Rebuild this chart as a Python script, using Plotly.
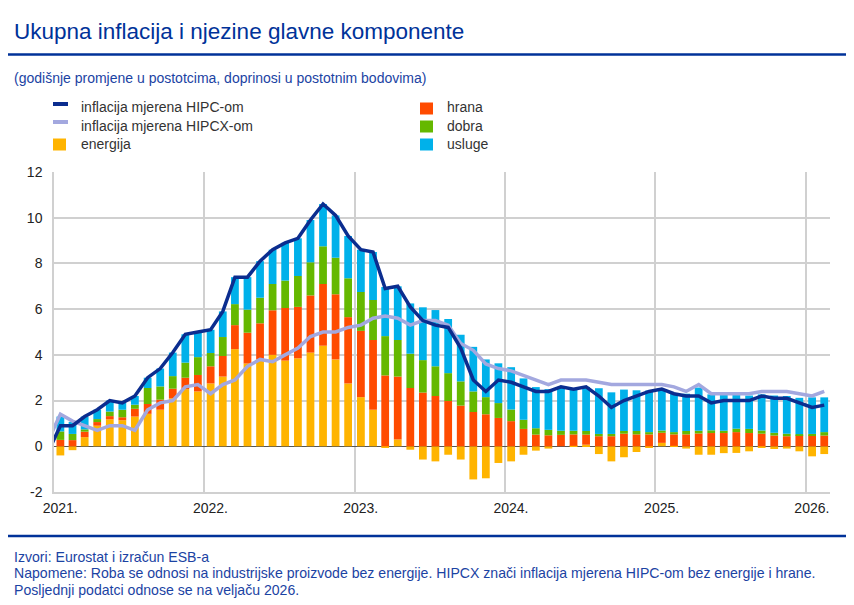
import pandas as pd
import plotly.graph_objects as go

# ---------------- data ----------------
months = pd.date_range("2021-01-01", periods=62, freq="MS")
line_months = pd.date_range("2020-12-01", periods=63, freq="MS")

energija = [-0.40, -0.17, 0.40, 0.90, 1.18, 1.14, 1.30, 1.42, 1.60, 2.10, 2.50, 2.40,
            2.75, 3.05, 4.25, 3.62, 3.80, 4.00, 3.75, 3.85, 4.10, 4.40, 3.80, 2.75,
            2.15, 1.60, -0.07, 0.30, -0.15, -0.58, -0.66, -0.37, -0.58, -1.45, -1.40, -0.73,
            -0.66, -0.37, -0.19, -0.10, 0.00, 0.02, 0.07, -0.34, -0.66, -0.48, -0.25, -0.04,
            0.15, 0.02, -0.10, -0.37, -0.37, -0.30, -0.29, -0.22, -0.07, -0.12, -0.10, -0.22,
            -0.44, -0.34]
hrana = [0.28, 0.27, 0.24, 0.16, 0.14, 0.13, 0.34, 0.43, 0.44, 0.42, 0.50, 0.72,
         0.75, 0.90, 1.05, 1.35, 1.58, 1.95, 2.30, 2.25, 2.50, 2.70, 2.85, 2.90,
         2.90, 3.05, 3.10, 2.75, 2.55, 2.35, 2.20, 1.98, 1.78, 1.50, 1.40, 1.24,
         1.10, 0.76, 0.51, 0.48, 0.50, 0.50, 0.44, 0.44, 0.44, 0.55, 0.52, 0.52,
         0.44, 0.50, 0.52, 0.56, 0.58, 0.58, 0.62, 0.58, 0.55, 0.47, 0.44, 0.48,
         0.48, 0.47]
dobra = [0.37, 0.27, 0.10, 0.13, 0.20, 0.33, 0.18, 0.70, 0.58, 0.55, 0.66, 0.78,
         0.58, 0.83, 0.92, 1.01, 1.12, 1.15, 1.20, 1.35, 1.45, 1.65, 1.60, 1.70,
         1.70, 1.75, 1.72, 1.60, 1.50, 1.42, 1.30, 1.22, 1.06, 0.90, 0.75, 0.65,
         0.51, 0.40, 0.28, 0.24, 0.18, 0.16, 0.16, 0.10, 0.10, 0.12, 0.15, 0.10,
         0.10, 0.10, 0.15, 0.12, 0.12, 0.10, 0.15, 0.18, 0.14, 0.12, 0.11, 0.05,
         0.06, 0.15]
usluge = [0.65, 0.53, 0.56, 0.41, 0.48, 0.30, 0.38, 0.45, 0.78, 1.03, 1.24, 1.10,
          1.02, 1.12, 1.18, 1.42, 1.60, 1.50, 1.65, 1.65, 1.85, 1.85, 1.85, 1.85,
          1.85, 2.10, 2.15, 2.35, 2.20, 2.31, 2.46, 2.37, 2.04, 1.95, 1.65, 1.74,
          1.85, 1.81, 1.80, 1.78, 1.92, 1.82, 1.93, 2.00, 1.82, 1.81, 1.78, 1.82,
          1.81, 1.68, 1.63, 1.89, 1.57, 1.62, 1.52, 1.46, 1.58, 1.63, 1.65, 1.59,
          1.60, 1.52]
hipc = [-0.3,
        0.9, 0.9, 1.3, 1.6, 2.0, 1.9, 2.2, 3.0, 3.4, 4.1, 4.9, 5.0,
        5.1, 5.9, 7.4, 7.4, 8.1, 8.6, 8.9, 9.1, 9.9, 10.6, 10.1, 9.2,
        8.6, 8.5, 6.9, 7.0, 6.1, 5.5, 5.3, 5.2, 4.3, 2.9, 2.4, 2.9,
        2.8, 2.6, 2.4, 2.4, 2.6, 2.5, 2.6, 2.2, 1.7, 2.0, 2.2, 2.4,
        2.5, 2.3, 2.2, 2.2, 1.9, 2.0, 2.0, 2.0, 2.2, 2.1, 2.1, 1.9,
        1.7, 1.8]
hipcx = [0.2,
         1.4, 1.1, 0.9, 0.7, 0.9, 0.9, 0.7, 1.6, 1.9, 2.0, 2.6, 2.7,
         2.3, 2.7, 2.9, 3.5, 3.8, 3.7, 4.0, 4.3, 4.8, 5.0, 5.0, 5.2,
         5.3, 5.6, 5.7, 5.6, 5.3, 5.5, 5.5, 5.3, 4.5, 4.2, 3.6, 3.4,
         3.3, 3.1, 2.9, 2.7, 2.9, 2.9, 2.9, 2.8, 2.7, 2.7, 2.7, 2.7,
         2.7, 2.6, 2.4, 2.7, 2.3, 2.3, 2.3, 2.3, 2.4, 2.4, 2.4, 2.3,
         2.2, 2.4]
year_ticks = ["2021-01-16", "2022-01-16", "2023-01-16", "2024-01-16", "2025-01-16", "2026-01-16"]
year_labels = ["2021.", "2022.", "2023.", "2024.", "2025.", "2026."]
y_ticks = [-2, 0, 2, 4, 6, 8, 10, 12]
y_labels = ["-2", "0", "2", "4", "6", "8", "10", "12"]

# ---------------- styles ----------------
OFF = 8                      # page body margin of the html page
W, H = 846, 597
ML, MR, MT, MB = 46, 24, 164, 113
PW, PH = W - ML - MR, H - MT - MB
FONT = "Arial, Liberation Sans, sans-serif"
BLUE = "#003299"
TXT_BLUE = "#1b43a3"
C_EN, C_FO, C_GO, C_SE = "#FFB400", "#FF4B00", "#65B800", "#00B1EA"
C_HIPC, C_HIPCX = "#0B2D8F", "#A3A8DF"
GRID = "#d0d0d0"


def px(sx):
    return (sx - OFF - ML) / PW


def py(sy):
    return (H - MB - (sy - OFF)) / PH


fig = go.Figure()
for name, vals, col in [("energija", energija, C_EN), ("hrana", hrana, C_FO),
                        ("dobra", dobra, C_GO), ("usluge", usluge, C_SE)]:
    fig.add_trace(go.Bar(x=months, y=vals, name=name, marker_color=col,
                         marker_line_width=0, xperiod="M1", xperiodalignment="middle"))
fig.add_trace(go.Scatter(x=line_months, y=hipcx, mode="lines", name="inflacija mjerena HIPCX-om",
                         line=dict(color=C_HIPCX, width=3.5), xperiod="M1", xperiodalignment="middle"))
fig.add_trace(go.Scatter(x=line_months, y=hipc, mode="lines", name="inflacija mjerena HIPC-om",
                         line=dict(color=C_HIPC, width=3.5), xperiod="M1", xperiodalignment="middle"))

shapes = []
annotations = []
for yy in (54.5, 536):
    shapes.append(dict(type="line", xref="paper", yref="paper", x0=px(OFF), x1=px(OFF + W), y0=py(yy), y1=py(yy),
                       line=dict(color=BLUE, width=2.5)))

annotations.append(dict(text="Ukupna inflacija i njezine glavne komponente", x=px(12), y=py(31),
                        xref="paper", yref="paper", xanchor="left", yanchor="middle", showarrow=False,
                        font=dict(family=FONT, size=22.5, color=BLUE)))
annotations.append(dict(text="(godišnje promjene u postotcima, doprinosi u postotnim bodovima)",
                        x=px(12), y=py(78.5), xref="paper", yref="paper", xanchor="left", yanchor="middle",
                        showarrow=False, font=dict(family=FONT, size=14, color=TXT_BLUE)))
foot = ["Izvori: Eurostat i izračun ESB-a",
        "Napomene: Roba se odnosi na industrijske proizvode bez energije. HIPCX znači inflacija mjerena HIPC-om bez energije i hrane.",
        "Posljednji podatci odnose se na veljaču 2026."]
for i, t in enumerate(foot):
    annotations.append(dict(text=t, x=px(12), y=py(556.5 + 16.8 * i), xref="paper", yref="paper",
                            xanchor="left", yanchor="middle", showarrow=False,
                            font=dict(family=FONT, size=14.1, color=TXT_BLUE)))

# legend (manual, two columns)
rows = [107.5, 125.5, 143.5]
leg1 = [("inflacija mjerena HIPC-om", C_HIPC, "line"),
        ("inflacija mjerena HIPCX-om", C_HIPCX, "line"),
        ("energija", C_EN, "box")]
leg2 = [("hrana", C_FO, "box"), ("dobra", C_GO, "box"), ("usluge", C_SE, "box")]
for (mx, tx, items) in [(53, 79, leg1), (420, 445, leg2)]:
    for r, (t, c, kind) in zip(rows, items):
        if kind == "line":
            shapes.append(dict(type="rect", xref="paper", yref="paper", x0=px(mx), x1=px(mx + 15),
                               y0=py(r - 1.5), y1=py(r - 5.5), fillcolor=c, line_width=0))
        else:
            shapes.append(dict(type="rect", xref="paper", yref="paper", x0=px(mx), x1=px(mx + 13),
                               y0=py(r - 5), y1=py(r + 7), fillcolor=c, line_width=0))
        annotations.append(dict(text=t, x=px(tx), y=py(r), xref="paper", yref="paper",
                                xanchor="left", yanchor="middle", showarrow=False,
                                font=dict(family=FONT, size=14, color="#333333")))

fig.update_layout(
    width=W, height=H, margin=dict(l=ML, r=MR, t=MT, b=MB),
    paper_bgcolor="white", plot_bgcolor="white",
    barmode="relative", bargap=0.36, showlegend=False,
    font=dict(family=FONT, size=14, color="#222222"),
    shapes=shapes, annotations=annotations,
    xaxis=dict(type="date", range=["2021-01-01", "2026-03-01"], tickmode="array",
               tickvals=year_ticks, ticktext=year_labels, showgrid=False, zeroline=False,
               ticks="", ticklabelstandoff=2, tickfont=dict(size=14, color="#222222"),
               showline=True, linecolor=GRID, linewidth=1.5,
               minor=dict(tickmode="linear", tick0="2021-01-01", dtick="M12", showgrid=True,
                          gridcolor=GRID, gridwidth=1.5)),
    yaxis=dict(range=[-2, 12], tickmode="array", tickvals=y_ticks, ticktext=y_labels, showgrid=True,
               gridcolor=GRID, gridwidth=1.5, zeroline=True, zerolinecolor="#555555",
               zerolinewidth=1, showline=True, linecolor=GRID, linewidth=1.5,
               ticks="", ticklabelstandoff=7, tickfont=dict(size=14, color="#222222")),
)

fig.write_html("out.html")
